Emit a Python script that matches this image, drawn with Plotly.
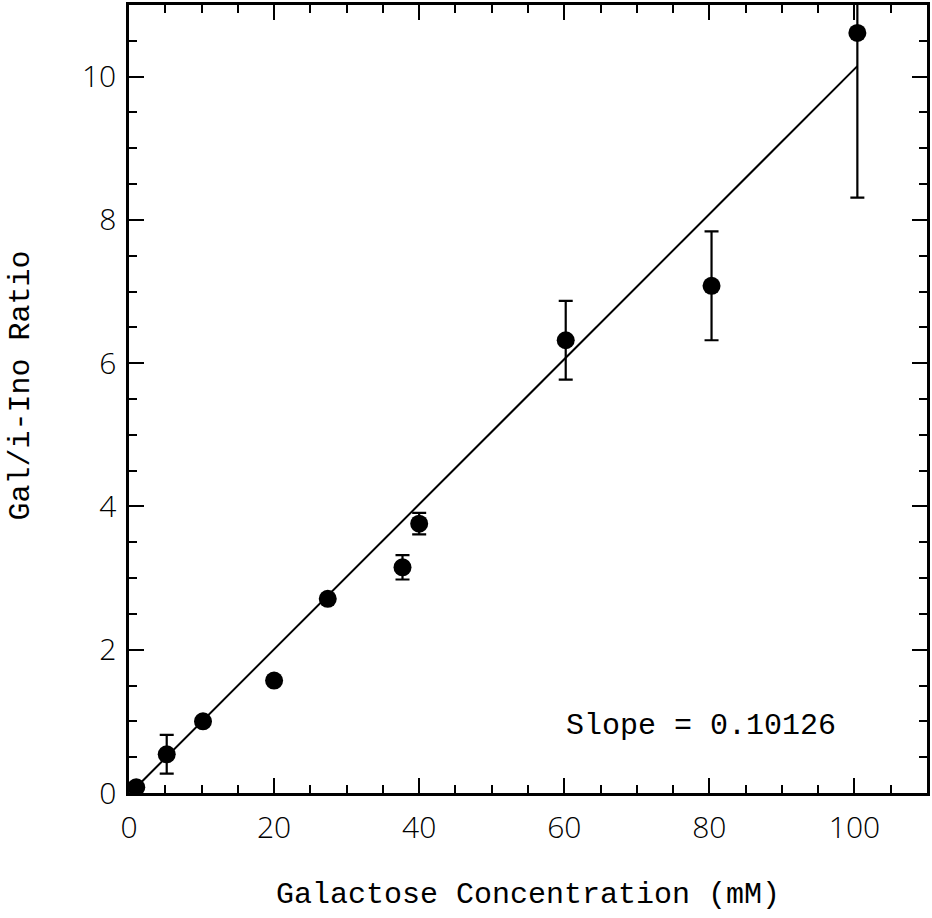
import plotly.graph_objects as go

# Measured galactose / inositol ratios
conc_mM = [1.0, 5.2, 10.2, 20.0, 27.4, 37.7, 40.0, 60.2, 80.3, 100.4]
ratio = [0.08, 0.54, 1.00, 1.57, 2.71, 3.15, 3.76, 6.32, 7.08, 10.61]
ratio_err = [0.0, 0.27, 0.0, 0.0, 0.0, 0.17, 0.15, 0.55, 0.76, 2.30]

# Linear fit
slope = 0.10126
intercept = -0.02
fit_x = [1.0, 100.4]
fit_y = [slope * x + intercept for x in fit_x]

x_ticks = [0, 20, 40, 60, 80, 100]
y_ticks = [0, 2, 4, 6, 8, 10]

mono = "Liberation Mono"
tick_font = dict(family="Open Sans", size=30, color="black", weight=300)

W, H = 932, 918
ml, mr, mt, mb = 129, 5, 2, 125
pw, ph = W - ml - mr, H - mt - mb


def px_to_paper_x(px):
    return (px - ml) / pw


def px_to_paper_y(py):
    return 1 - (py - mt) / ph


fig = go.Figure()
fig.add_trace(go.Scatter(
    x=fit_x, y=fit_y, mode="lines",
    line=dict(color="black", width=2),
    showlegend=False, hoverinfo="skip",
))
fig.add_trace(go.Scatter(
    x=conc_mM, y=ratio, mode="markers",
    marker=dict(symbol="circle", size=18, color="black"),
    error_y=dict(type="data", array=ratio_err, visible=True,
                 color="black", thickness=2.2, width=7),
    showlegend=False,
))

axis_common = dict(
    showline=True, linecolor="black", linewidth=2.5, mirror="ticks",
    ticks="inside", ticklen=15, tickwidth=2, tickcolor="black",
    showgrid=False, zeroline=False, tickfont=tick_font,
)

fig.update_xaxes(
    range=[0, 110], tickvals=x_ticks, ticktext=[str(v) for v in x_ticks],
    minor=dict(dtick=5, tick0=0, ticks="inside", ticklen=8, tickwidth=2,
               tickcolor="black", showgrid=False),
    ticklabelstandoff=6,
    **axis_common,
)
fig.update_yaxes(
    range=[0, 11], tickvals=y_ticks, ticktext=[str(v) for v in y_ticks],
    minor=dict(dtick=0.5, tick0=0, ticks="inside", ticklen=8, tickwidth=2,
               tickcolor="black", showgrid=False),
    ticklabelstandoff=4,
    **axis_common,
)

# Axis titles
fig.add_annotation(
    x=0.5, y=px_to_paper_y(895), xref="paper", yref="paper",
    xanchor="center", yanchor="middle", showarrow=False,
    text="Galactose Concentration (mM)",
    font=dict(family=mono, size=30, color="black"),
)
fig.add_annotation(
    x=px_to_paper_x(21), y=px_to_paper_y(384), xref="paper", yref="paper",
    xanchor="center", yanchor="middle", showarrow=False, textangle=-90,
    text="Gal/i-Ino Ratio",
    font=dict(family=mono, size=30, color="black"),
)

fig.add_annotation(
    x=78.8, y=0.93, xref="x", yref="y", showarrow=False,
    text=f"Slope = {slope}",
    font=dict(family=mono, size=30, color="black"),
)

fig.update_layout(
    width=W, height=H,
    margin=dict(l=ml, r=mr, t=mt, b=mb),
    paper_bgcolor="white", plot_bgcolor="white",
)

fig.write_html("out.html")
